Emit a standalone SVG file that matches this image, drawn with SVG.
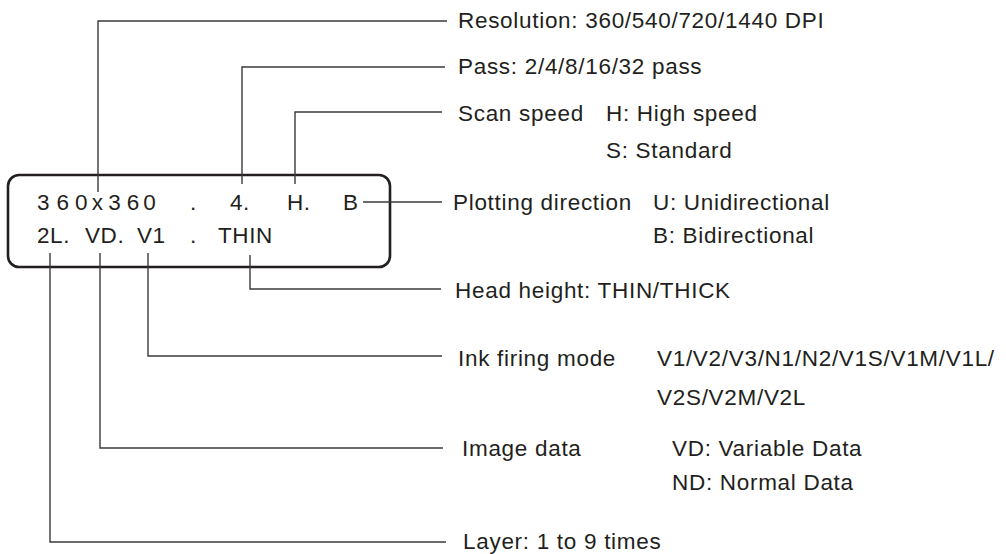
<svg xmlns="http://www.w3.org/2000/svg" width="1006" height="554" viewBox="0 0 1006 554">
<style>
text{font-family:"Liberation Sans",Arial,Helvetica,sans-serif;font-size:22.5px;letter-spacing:0.7px;fill:#231f20}
.d{letter-spacing:0.6px}
.c{fill:none;stroke:#3a3a3a;stroke-width:1.4}
.box{fill:none;stroke:#231f20;stroke-width:2.6}
</style>
<rect width="1006" height="554" fill="#fff"/>
<g id="display">
<rect class="box" x="8" y="175" width="382" height="92" rx="11"/>
<text class="d" x="37 56.5 75 91.7 108.3 126.7 143.3" y="210">360x360</text>
<text class="d" x="190" y="210">.</text>
<text class="d" x="230" y="210">4.</text>
<text class="d" x="287" y="210">H.</text>
<text class="d" x="343" y="210">B</text>
<text class="d" x="37" y="243">2L.</text>
<text class="d" x="85" y="243">VD.</text>
<text class="d" x="137" y="243">V1</text>
<text class="d" x="190" y="243">.</text>
<text class="d" x="218" y="243">THIN</text>
</g>
<g id="connectors">
<polyline class="c" points="98,192 98,21 447,21"/>
<polyline class="c" points="242,184 242,67 445,67"/>
<polyline class="c" points="295,184 295,112 442,112"/>
<polyline class="c" points="363,202 442,202"/>
<polyline class="c" points="250,255 250,289 441,289"/>
<polyline class="c" points="148,253 148,356 442,356"/>
<polyline class="c" points="100,253 100,448 443,448"/>
<polyline class="c" points="50,253 50,542 446,542"/>
</g>
<g id="resolution"><text x="458" y="28">Resolution: 360/540/720/1440 DPI</text></g>
<g id="pass"><text x="458" y="74">Pass: 2/4/8/16/32 pass</text></g>
<g id="scan-speed"><text x="458" y="121">Scan speed</text><text x="606" y="121">H: High speed</text><text x="606" y="158">S: Standard</text></g>
<g id="plotting-direction"><text x="453" y="210">Plotting direction</text><text x="653" y="210">U: Unidirectional</text><text x="653" y="243">B: Bidirectional</text></g>
<g id="head-height"><text x="455" y="298">Head height: THIN/THICK</text></g>
<g id="ink-firing-mode"><text x="458" y="366">Ink firing mode</text><text x="657" y="366">V1/V2/V3/N1/N2/V1S/V1M/V1L/</text><text x="657" y="405">V2S/V2M/V2L</text></g>
<g id="image-data"><text x="462" y="456">Image data</text><text x="672" y="456">VD: Variable Data</text><text x="672" y="490">ND: Normal Data</text></g>
<g id="layer"><text x="463" y="549">Layer: 1 to 9 times</text></g>
</svg>
